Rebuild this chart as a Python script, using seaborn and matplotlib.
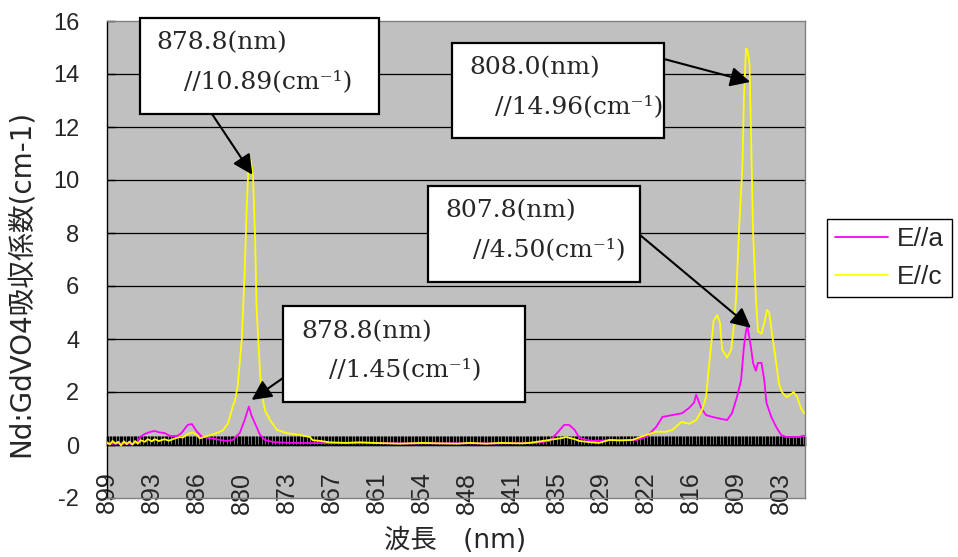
"""Nd:GdVO4 absorption spectrum (E//a, E//c) with peak annotations."""

import numpy as np
import matplotlib
matplotlib.use("Agg")
import matplotlib.pyplot as plt
from matplotlib.patches import Rectangle
import seaborn as sns

W, H = 958, 557

# ── data ──────────────────────────────────────────────────────────────────────
# E//a (magenta)
wl_a = [899.0, 897.0, 895.4, 894.7, 894.3, 893.6, 892.8, 892.2, 891.6, 890.8,
        890.0, 889.0, 888.4, 887.5, 886.9, 886.2, 885.4, 884.3, 882.0, 881.1,
        880.1, 879.4, 879.1, 878.8, 878.4, 877.7, 877.2, 876.5, 875.3, 873.0,
        868.0, 862.0, 856.0, 850.0, 844.0, 838.0, 836.0, 834.9, 833.9, 833.2,
        832.4, 831.7, 829.9, 826.5, 823.6, 822.2, 820.8, 819.9, 818.5, 817.1,
        816.1, 815.4, 815.1, 814.4, 813.7, 812.8, 811.8, 810.7, 810.0, 809.3,
        808.7, 808.3, 808.0, 807.8, 807.3, 807.0, 806.6, 806.3, 805.8, 805.4,
        805.1, 804.4, 803.7, 803.0, 802.3, 800.4, 800.0, 799.7]
abs_a = [0.05, 0.06, 0.05, 0.10, 0.30, 0.42, 0.50, 0.53, 0.48, 0.45,
         0.34, 0.34, 0.45, 0.76, 0.79, 0.50, 0.30, 0.26, 0.15, 0.19,
         0.45, 0.94, 1.20, 1.45, 1.10, 0.68, 0.38, 0.19, 0.11, 0.08,
         0.07, 0.08, 0.06, 0.07, 0.06, 0.08, 0.15, 0.45, 0.76, 0.76,
         0.57, 0.26, 0.15, 0.19, 0.19, 0.30, 0.68, 1.06, 1.13, 1.20,
         1.40, 1.60, 1.90, 1.40, 1.13, 1.06, 1.00, 0.94, 1.20, 1.80,
         2.45, 3.70, 4.30, 4.50, 3.70, 3.10, 2.80, 3.10, 3.10, 2.45,
         1.60, 1.06, 0.68, 0.38, 0.30, 0.30, 0.34, 0.35]

# E//c (yellow)
wl_c = [899.0, 898.6, 898.2, 897.8, 897.4, 897.0, 896.6, 896.2, 895.8, 895.4,
        895.0, 894.6, 894.2, 893.6, 893.2, 892.6, 892.2, 891.6, 890.8, 890.2,
        889.3, 888.6, 888.2, 887.5, 886.8, 886.2, 885.8, 885.0, 883.9, 882.5,
        881.8, 881.5, 881.1, 880.8, 880.4, 879.8, 879.4, 879.1, 878.8, 878.5,
        878.2, 877.9, 877.7, 877.2, 877.0, 876.5, 875.8, 874.8, 873.4, 871.6,
        870.1, 869.7, 868.5, 867.3, 865.0, 863.0, 860.0, 857.3, 854.0, 851.6,
        849.0, 847.4, 845.0, 842.9, 840.0, 838.8, 836.0, 834.5, 833.6, 832.4,
        831.7, 830.0, 828.9, 827.5, 826.0, 824.2, 822.2, 820.8, 819.4, 818.5,
        817.2, 816.1, 815.1, 814.3, 813.7, 813.0, 812.6, 812.1, 811.7, 811.4,
        810.7, 810.1, 809.7, 809.4, 809.0, 808.5, 808.3, 808.0, 807.8, 807.5,
        807.3, 807.0, 806.6, 806.3, 805.8, 805.4, 805.0, 804.7, 804.3, 803.7,
        803.3, 802.9, 802.2, 801.2, 800.7, 800.2, 799.7]
abs_c = [0.10, 0.02, 0.15, 0.05, 0.12, -0.02, 0.14, 0.03, 0.13, 0.01,
         0.15, 0.05, 0.18, 0.12, 0.22, 0.14, 0.22, 0.15, 0.22, 0.16,
         0.25, 0.30, 0.28, 0.42, 0.48, 0.38, 0.25, 0.32, 0.40, 0.55,
         0.80, 1.06, 1.45, 1.65, 2.20, 4.00, 6.50, 9.00, 10.89, 10.70,
         10.10, 7.70, 5.20, 2.70, 2.00, 1.30, 0.95, 0.57, 0.45, 0.38,
         0.30, 0.18, 0.15, 0.10, 0.08, 0.10, 0.07, 0.05, 0.08, 0.06,
         0.05, 0.08, 0.05, 0.08, 0.06, 0.08, 0.19, 0.25, 0.30, 0.22,
         0.15, 0.10, 0.08, 0.19, 0.17, 0.19, 0.38, 0.50, 0.50, 0.57,
         0.87, 0.80, 0.94, 1.30, 1.80, 3.70, 4.70, 4.90, 4.60, 3.60,
         3.30, 3.60, 4.60, 5.60, 8.10, 10.60, 13.10, 14.96, 14.90, 14.40,
         11.90, 8.10, 5.60, 4.30, 4.20, 4.60, 5.10, 5.00, 4.20, 3.10,
         2.30, 2.00, 1.80, 2.00, 1.80, 1.40, 1.20]

# Excel category labels (every 32nd point of a 0.2 nm grid)
x_ticks = [899.0, 892.6, 886.2, 879.8, 873.4, 867.0, 860.6, 854.2,
           847.8, 841.4, 835.0, 828.6, 822.2, 815.8, 809.4, 803.0]
x_labels = ["899", "893", "886", "880", "873", "867", "861", "854",
            "848", "841", "835", "829", "822", "816", "809", "803"]
y_ticks = [-2, 0, 2, 4, 6, 8, 10, 12, 14, 16]

# annotated peaks
peak_wl = [878.8, 808.0, 807.8, 878.8]
peak_val = [10.89, 14.96, 4.50, 1.45]

# ── layout (pixels from top-left of the image) ───────────────────────────────
boxes = [(140, 18, 379, 114), (452, 43, 664, 138),
         (428, 186, 640, 282), (283, 306, 525, 402)]
line1 = [(156, 43), (469, 68), (445, 211), (301, 332)]
line2 = [(184, 82), (495, 107), (473, 250), (329, 370)]
arrow_from = [(212, 114), (664, 59), (640, 235), (283, 378)]
arrow_tip = [(878.3, 10.2), (807.4, 13.7), (807.3, 4.42), (878.4, 1.7)]


def fxy(px, py):
    return px / W, 1 - py / H


sns.set_theme(style="ticks", rc={
    "axes.facecolor": "#C0C0C0",
    "axes.edgecolor": "#808080",
    "axes.linewidth": 1.0,
    "axes.unicode_minus": False,
    "figure.facecolor": "white",
})
plt.rcParams["font.family"] = ["Liberation Sans", "Noto Sans CJK JP", "DejaVu Sans"]

fig = plt.figure(figsize=(W / 100, H / 100), dpi=100)
ax = fig.add_axes([107 / W, 1 - 498 / H, 698 / W, 477 / H])

sns.lineplot(x=wl_a, y=abs_a, color="#FF00FF", lw=1.3, sort=False,
             estimator=None, ax=ax, label="E//a", zorder=3)
sns.lineplot(x=wl_c, y=abs_c, color="#FFFF00", lw=1.3, sort=False,
             estimator=None, ax=ax, label="E//c", zorder=3)

ax.set_xlim(899, 799.6)
ax.set_ylim(y_ticks[0], y_ticks[-1])
ax.set_xlabel("")
ax.set_ylabel("")

ax.set_yticks(y_ticks)
ax.tick_params(axis="y", direction="in", length=6, width=1, color="black",
               labelsize=17, pad=20)
ax.set_xticks(x_ticks, labels=x_labels, rotation=90)
ax.tick_params(axis="x", length=0, labelsize=18, pad=-19)

ax.yaxis.grid(True, color="black", lw=0.9)
grid = ax.get_ygridlines()
grid[0].set_visible(False)
grid[-1].set_visible(False)
ax.set_axisbelow(True)
ax.spines["left"].set_color("black")

# category axis crossing at y=0: dense tick marks every 0.2 nm
y0 = (0 - y_ticks[0]) / (y_ticks[-1] - y_ticks[0])
band = ax.secondary_xaxis(y0)
band.set_xticks(np.round(np.arange(899.0, 799.5, -0.2), 1))
band.tick_params(axis="x", direction="in", length=6.5, width=1.05,
                 color="black", labelbottom=False, labeltop=False)
band.spines["bottom"].set_color("black")
band.spines["bottom"].set_linewidth(1.0)

# axis titles
fig.text(*fxy(21, 283), "Nd:GdVO4吸収係数(cm-1)", rotation=90,
         ha="center", va="center", fontsize=20,
         family=["DejaVu Sans", "Noto Sans CJK JP"])
fig.text(*fxy(455, 541), "波長\u3000(nm)", ha="center", va="center",
         fontsize=19, family=["DejaVu Sans", "Noto Sans CJK JP"])

# legend outside on the right
leg = ax.legend(loc="upper left", bbox_to_anchor=fxy(827, 219),
                bbox_transform=fig.transFigure, frameon=True, fancybox=False,
                facecolor="white", edgecolor="black", fontsize=19,
                handlelength=2.0, borderaxespad=0, borderpad=0.3,
                labelspacing=0.55, handletextpad=0.35)
leg.get_frame().set_linewidth(1.0)
leg.get_frame().set_alpha(1)

# peak annotations
for i in range(len(peak_wl)):
    x0, y0_, x1, y1 = boxes[i]
    fig.add_artist(Rectangle(fxy(x0, y1), (x1 - x0) / W, (y1 - y0_) / H,
                             transform=fig.transFigure, facecolor="white",
                             edgecolor="black", lw=1.6, zorder=5))
    fig.text(*fxy(*line1[i]), f"{peak_wl[i]:.1f}(nm)", ha="left", va="center",
             fontsize=18, family="DejaVu Serif", zorder=6)
    fig.text(*fxy(*line2[i]), f"//{peak_val[i]:.2f}(cm\u207b\u00b9)", ha="left",
             va="center", fontsize=18, family="DejaVu Serif", zorder=6)
    ax.annotate("", xy=arrow_tip[i], xycoords="data",
                xytext=fxy(*arrow_from[i]), textcoords="figure fraction",
                arrowprops=dict(arrowstyle="-|>,head_length=0.6,head_width=0.3",
                                color="black", lw=1.5, shrinkA=0, shrinkB=0,
                                mutation_scale=20),
                annotation_clip=False, zorder=4)

fig.savefig("out.png", dpi=100)
